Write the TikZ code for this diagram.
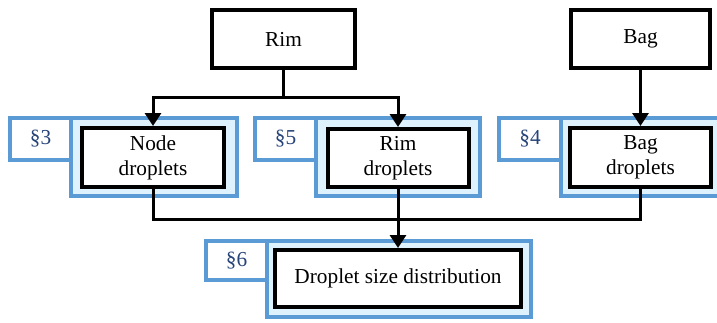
\documentclass[tikz,border=0pt]{standalone}
\usepackage{fontspec}
\setmainfont{Liberation Serif}
\usetikzlibrary{arrows.meta}
\definecolor{secblue}{HTML}{5B9BD5}
\definecolor{secfill}{HTML}{DDF2FC}
\definecolor{sectext}{HTML}{264478}
\tikzset{
  blackbox/.style={draw=black, line width=4pt, fill=white, inner sep=0pt, align=center,
    font=\fontsize{21.3}{25}\selectfont},
  secbox/.style={draw=secblue, line width=4pt, fill=secfill, inner sep=0pt},
  seclabel/.style={draw=secblue, line width=4pt, fill=white, inner sep=0pt, text=sectext,
    font=\fontsize{21.3}{25}\selectfont},
  conn/.style={draw=black, line width=3pt},
  arr/.style={-{Triangle[width=16pt,length=13pt]}}
}
\begin{document}
\begin{tikzpicture}[x=1pt,y=1pt]
\useasboundingbox (0,0) rectangle (717,-322);
% top boxes
\node[blackbox, minimum width=143pt, minimum height=58pt] (rim) at (283.5,-39) {Rim};
\node[blackbox, minimum width=139pt, minimum height=58pt] (bag) at (640.5,-39) {Bag};
% section 3
\node[secbox, minimum width=166pt, minimum height=78pt] (c3) at (154,-157) {};
\node[seclabel, minimum width=61pt, minimum height=42pt] (l3) at (40.5,-139) {§3};
\node[blackbox, minimum width=142pt, minimum height=59pt] (nd) at (153,-157.5) {Node\\droplets};
% section 5
\node[secbox, minimum width=164pt, minimum height=78pt] (c5) at (398,-157) {};
\node[seclabel, minimum width=61pt, minimum height=42pt] (l5) at (285.5,-139) {§5};
\node[blackbox, minimum width=141pt, minimum height=58pt] (rd) at (398,-158) {Rim\\droplets};
% section 4
\node[secbox, minimum width=162pt, minimum height=78pt] (c4) at (642,-157) {};
\node[seclabel, minimum width=62pt, minimum height=42pt] (l4) at (530,-139) {§4};
\node[blackbox, minimum width=141pt, minimum height=59pt] (bd) at (640.5,-157.5) {Bag\\droplets};
% section 6
\node[secbox, minimum width=264pt, minimum height=76pt] (c6) at (399,-279) {};
\node[seclabel, minimum width=61pt, minimum height=39pt] (l6) at (236.5,-260.5) {§6};
\node[blackbox, minimum width=246pt, minimum height=57pt] (dsd) at (398,-278.5) {Droplet size distribution};
% connectors
\coordinate (j1) at (283.5,-97);
\coordinate (j2) at (398,-219);
\draw[conn, arr] (rim.south) -- (j1) -| (nd.north);
\draw[conn, arr] (j1) -| (rd.north);
\draw[conn, arr] (bag.south) -- (bd.north);
\draw[conn] (nd.south) |- (j2) -| (bd.south);
\draw[conn, arr] (rd.south) -- (dsd.north);
\end{tikzpicture}
\end{document}
